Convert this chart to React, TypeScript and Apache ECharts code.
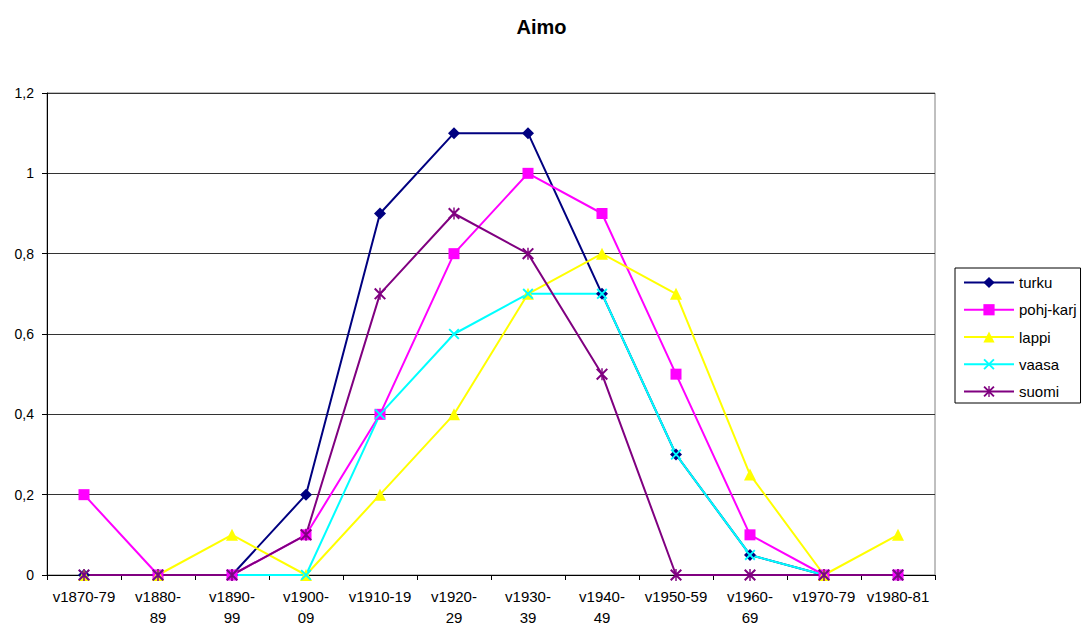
import React, { useEffect, useRef } from "react";
import * as echarts from "echarts";

const categories = [
  "v1870-79", "v1880-\n89", "v1890-\n99", "v1900-\n09", "v1910-19", "v1920-\n29",
  "v1930-\n39", "v1940-\n49", "v1950-59", "v1960-\n69", "v1970-79", "v1980-81",
];
const turku = [0, 0, 0, 0.2, 0.9, 1.1, 1.1, 0.7, 0.3, 0.05, 0, 0];
const pohjKarj = [0.2, 0, 0, 0.1, 0.4, 0.8, 1.0, 0.9, 0.5, 0.1, 0, 0];
const lappi = [0, 0, 0.1, 0, 0.2, 0.4, 0.7, 0.8, 0.7, 0.25, 0, 0.1];
const vaasa = [0, 0, 0, 0, 0.4, 0.6, 0.7, 0.7, 0.3, 0.05, 0, 0];
const suomi = [0, 0, 0, 0.1, 0.7, 0.9, 0.8, 0.5, 0, 0, 0, 0];

const X_PATH = "path://M0,1.2 L1.2,0 L10,8.8 L8.8,10 Z M8.8,0 L10,1.2 L1.2,10 L0,8.8 Z";
const STAR_PATH =
  "path://M0,1.2 L1.2,0 L10,8.8 L8.8,10 Z M8.8,0 L10,1.2 L1.2,10 L0,8.8 Z M4.4,0 L5.6,0 L5.6,10 L4.4,10 Z";

const FONT = "'Liberation Sans', Arial, sans-serif";

export default function App() {
  const ref = useRef<HTMLDivElement>(null);
  useEffect(() => {
    if (!ref.current) return;
    const chart = echarts.init(ref.current, null, { renderer: "svg" });
    const mk = (name: string, data: number[], color: string, symbol: string, size: number) => ({
      name,
      type: "line",
      data,
      symbol,
      symbolSize: size,
      showAllSymbol: true,
      lineStyle: { color, width: 2 },
      itemStyle: { color },
    });
    chart.setOption({
      animation: false,
      backgroundColor: "#ffffff",
      textStyle: { fontFamily: FONT },
      title: {
        text: "Aimo",
        left: "center",
        top: 12,
        textStyle: { fontFamily: FONT, fontSize: 20, fontWeight: "bold", color: "#000" },
      },
      legend: {
        orient: "vertical",
        left: 955,
        top: 268,
        padding: [7, 4, 4, 8],
        itemWidth: 50,
        itemHeight: 14,
        itemGap: 12.25,
        borderColor: "#000",
        borderWidth: 1,
        textStyle: { fontFamily: FONT, fontSize: 15, color: "#000" },
        data: ["turku", "pohj-karj", "lappi", "vaasa", "suomi"],
      },
      grid: {
        left: 47,
        right: 148,
        top: 93,
        bottom: 48,
        outerBoundsMode: "none",
        containLabel: false,
        show: true,
        borderColor: "#808080",
        borderWidth: 1,
      },
      xAxis: {
        type: "category",
        data: categories,
        boundaryGap: true,
        axisLine: { lineStyle: { color: "#000", width: 1 } },
        axisTick: { show: true, length: 5, alignWithLabel: false, lineStyle: { color: "#000" } },
        axisLabel: {
          interval: 0,
          color: "#000",
          fontFamily: FONT,
          fontSize: 15,
          margin: 11,
          lineHeight: 21,
        },
      },
      yAxis: {
        type: "value",
        min: 0,
        max: 1.2,
        interval: 0.2,
        axisLine: { show: true, lineStyle: { color: "#000", width: 1 } },
        axisTick: { show: true, length: 5, lineStyle: { color: "#000" } },
        splitLine: { show: true, lineStyle: { color: "#333", width: 1 } },
        axisLabel: {
          color: "#000",
          fontFamily: FONT,
          fontSize: 14,
          margin: 13,
          formatter: (v: number) => String(Math.round(v * 10) / 10).replace(".", ","),
        },
      },
      series: [
        mk("turku", turku, "#000080", "diamond", 12),
        mk("pohj-karj", pohjKarj, "#FF00FF", "rect", 11),
        mk("lappi", lappi, "#FFFF00", "triangle", 12),
        mk("vaasa", vaasa, "#00FFFF", X_PATH, 11),
        mk("suomi", suomi, "#800080", STAR_PATH, 12),
      ],
    });
    return () => chart.dispose();
  }, []);
  return (
    <div
      ref={ref}
      style={{ position: "fixed", left: 0, top: 0, width: 1083, height: 623 }}
    />
  );
}
